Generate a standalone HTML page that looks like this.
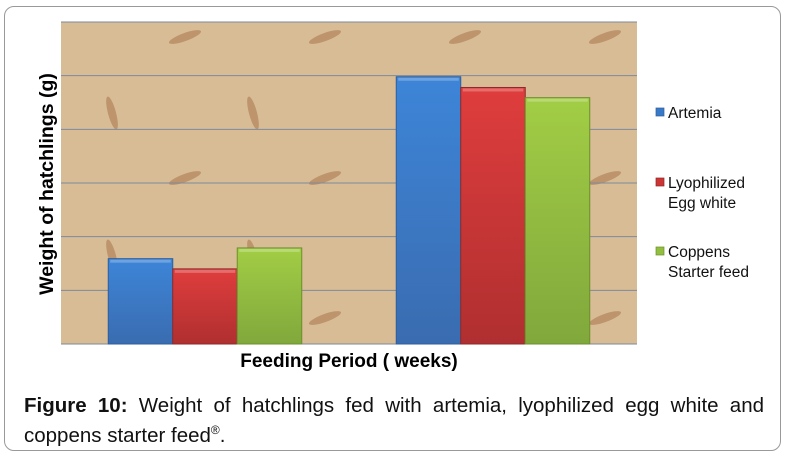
<!DOCTYPE html>
<html><head><meta charset="utf-8"><style>
html,body{margin:0;padding:0;background:#fff;width:787px;height:459px;overflow:hidden;font-family:"Liberation Sans",Arial,sans-serif}
#frame{position:absolute;left:4px;top:6px;width:777px;height:445px;border:1px solid #999;border-radius:10px;box-sizing:border-box}
#caption{position:absolute;left:24px;top:393px;width:740px;font-size:20.5px;line-height:25px;color:#111}
.l1{text-align:justify;text-align-last:justify;display:block}
</style></head><body>
<div id="frame"></div>
<svg id="chart" width="787" height="459" style="position:absolute;left:0;top:0"></svg>
<div id="caption"><div class="l1"><b>Figure 10:</b> Weight of hatchlings fed with artemia, lyophilized egg white and</div><div>coppens starter feed<sup style="font-size:12px">®</sup>.</div></div>
<script>
const categories = ["Period 1", "Period 2"];
const seriesNames = ["Artemia", "Lyophilized|Egg white", "Coppens|Starter feed"];
const artemia = [1.59, 4.98];
const eggWhite = [1.40, 4.78];
const coppens = [1.79, 4.59];
const yTicks = [0, 1, 2, 3, 4, 5, 6];

const NS = "http://www.w3.org/2000/svg";
const svg = document.getElementById('chart');
const X0 = 61, X1 = 637, Y0 = 344, Y1 = 22, YMAX = 6;
function yScale(v){ return Y0 - (v / YMAX) * (Y0 - Y1); }
const groupW = (X1 - X0) / categories.length;
const barW = 64.5;
function xBar(ci, si){ return X0 + groupW * ci + groupW / 2 - 1.5 * barW + si * barW; }
function mk(tag, attrs){ const e = document.createElementNS(NS, tag); for (const k in attrs) e.setAttribute(k, attrs[k]); svg.appendChild(e); return e; }

const defs = document.createElementNS(NS, 'defs');
defs.innerHTML = `
<linearGradient id="gb" x1="0" y1="0" x2="0" y2="1"><stop offset="0" stop-color="#3d85d8"/><stop offset="1" stop-color="#3a6cb0"/></linearGradient>
<linearGradient id="gr" x1="0" y1="0" x2="0" y2="1"><stop offset="0" stop-color="#df3d3d"/><stop offset="1" stop-color="#b02f30"/></linearGradient>
<linearGradient id="gg" x1="0" y1="0" x2="0" y2="1"><stop offset="0" stop-color="#a2cd45"/><stop offset="1" stop-color="#80a83c"/></linearGradient>`;
svg.appendChild(defs);

const bg = mk('rect', {x: X0, y: Y1, width: X1 - X0, height: Y0 - Y1, fill: '#d8bc95'});


const fish = [[185,37,0],[325,37,0],[465,37,0],[605,37,0],[185,178,0],[325,178,0],[605,178,0],[325,318,0],[605,318,0],[112,113,1],[253,113,1],[112,256,1],[253,256,1]];
fish.forEach(f => {
  const g = mk('ellipse', f[2] ? {cx: f[0], cy: f[1], rx: 4, ry: 17, fill: '#a8734a', opacity: 0.55, transform: `rotate(-15 ${f[0]} ${f[1]})`} : {cx: f[0], cy: f[1], rx: 17, ry: 4, fill: '#a8734a', opacity: 0.55, transform: `rotate(-20 ${f[0]} ${f[1]})`});
  
  
});
yTicks.forEach(t => {
  const l = mk('line', {x1: X0, x2: X1, y1: yScale(t), y2: yScale(t), stroke: '#7d8a9c', 'stroke-width': 1});
  
  
});
const series = [artemia, eggWhite, coppens];
const fills = ['url(#gb)', 'url(#gr)', 'url(#gg)'];
const strokes = ['#2d5f9e', '#8e2a2a', '#6c8f2c'];
categories.forEach((c, ci) => {
  series.forEach((s, si) => {
    const x = xBar(ci, si), y = yScale(s[ci]);
    const r = mk('rect', {x: x, y: y, width: barW, height: Y0 - y, fill: fills[si], stroke: strokes[si], 'stroke-width': 1});
    
    
    const h = mk('rect', {x: x + 2, y: y + 1, width: barW - 4, height: 3, fill: '#fff', opacity: 0.25});
    
    
  });
});
const yt = mk('text', {x: 0, y: 0, transform: 'translate(53 184) rotate(-90)', 'text-anchor': 'middle', 'font-size': 19.5, 'font-weight': 'bold', fill: '#000', 'font-family': 'Liberation Sans, sans-serif'});
yt.textContent = 'Weight of hatchlings (g)';


const xt = mk('text', {x: 349, y: 367, 'text-anchor': 'middle', 'font-size': 19, 'font-weight': 'bold', fill: '#000', 'font-family': 'Liberation Sans, sans-serif'});
xt.textContent = 'Feeding Period ( weeks)';


const legY = [113, 183, 252];
const legCol = ['#3a78c8', '#cc3535', '#92bf40'];
seriesNames.forEach((n, i) => {
  const sw = mk('rect', {x: 656, y: legY[i] - 5, width: 8, height: 8, fill: legCol[i], stroke: strokes[i], 'stroke-width': 0.7});
  
  
  n.split('|').forEach((line, j) => {
    const t = mk('text', {x: 668, y: legY[i] + 5 + j * 20, 'font-size': 15.5, fill: '#111', 'font-family': 'Liberation Sans, sans-serif'});
    t.textContent = line;
    
    
  });
});
</script>
</body></html>
